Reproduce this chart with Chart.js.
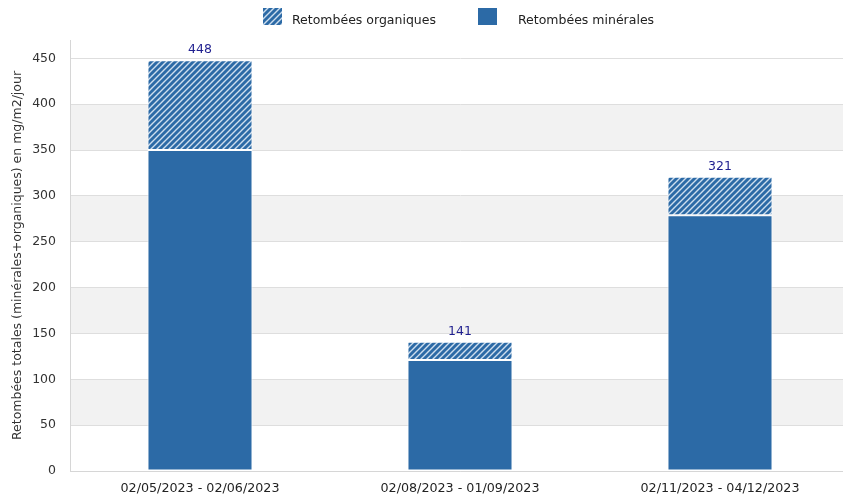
<!DOCTYPE html>
<html>
<head>
<meta charset="utf-8">
<script src="https://cdn.jsdelivr.net/npm/chart.js@4.4.1/dist/chart.umd.min.js"></script>
<style>
  body { margin: 0; background: #fff; overflow: hidden; }
  #wrap { width: 850px; height: 497px; position: relative; }
</style>
</head>
<body>
<div id="wrap"><canvas id="graph"></canvas></div>
<script>
let periodes = ["02/05/2023 - 02/06/2023", "02/08/2023 - 01/09/2023", "02/11/2023 - 04/12/2023"];
let minerales = [350, 121, 279];
let organiques = [98, 20, 42];
let totaux = [448, 141, 321];
let graduations = [0, 50, 100, 150, 200, 250, 300, 350, 400, 450];

const bleu = '#2c6aa6';
const police = 'DejaVu Sans';

// motif hachure pour les retombees organiques
function hachure() {
    const s = 6;
    const c = document.createElement('canvas');
    c.width = s; c.height = s;
    const ctx = c.getContext('2d');
    ctx.fillStyle = bleu;
    ctx.fillRect(0, 0, s, s);
    ctx.strokeStyle = 'rgba(235,242,250,0.85)';
    ctx.lineWidth = 1.4;
    ctx.beginPath();
    ctx.moveTo(0, s); ctx.lineTo(s, 0);
    ctx.moveTo(-1, 1); ctx.lineTo(1, -1);
    ctx.moveTo(s - 1, s + 1); ctx.lineTo(s + 1, s - 1);
    ctx.stroke();
    return ctx.createPattern(c, 'repeat');
}
const motif = hachure();

// bandes grises alternees
const bandes = {
    id: 'bandes',
    beforeDraw(chart) {
        const ctx = chart.ctx, y = chart.scales.y, a = chart.chartArea;
        ctx.save();
        ctx.fillStyle = '#f2f2f2';
        for (let v = 50; v < 450; v += 100) {
            const y1 = y.getPixelForValue(v + 50), y2 = y.getPixelForValue(v);
            ctx.fillRect(a.left, y1, a.right - a.left, y2 - y1);
        }
        ctx.restore();
    }
};

// totaux au dessus des barres + legende
const etiquettes = {
    id: 'etiquettes',
    afterDraw(chart) {
        const ctx = chart.ctx;
        const meta = chart.getDatasetMeta(1);
        ctx.save();
        ctx.font = '12.5px "' + police + '"';
        ctx.fillStyle = '#1f1f8f';
        ctx.textAlign = 'center';
        ctx.textBaseline = 'bottom';
        meta.data.forEach((bar, i) => {
            ctx.fillText(totaux[i], bar.x, bar.y - 4);
        });
        // legende
        ctx.textAlign = 'left';
        ctx.textBaseline = 'middle';
        ctx.fillStyle = motif;
        ctx.fillRect(263, 8, 19, 17);
        ctx.fillStyle = bleu;
        ctx.fillRect(478, 8, 19, 17);
        ctx.fillStyle = '#222';
        ctx.font = '12.5px "' + police + '"';
        ctx.fillText(chart.data.datasets[1].label, 292, 21);
        ctx.fillText(chart.data.datasets[0].label, 518, 21);
        ctx.restore();
    }
};

let graph = document.querySelector('#graph');
const data = {
    labels: periodes,
    datasets: [
        {
            label: 'Retombées minérales',
            data: minerales,
            backgroundColor: bleu,
            borderColor: '#fff',
            borderWidth: 1,
            borderSkipped: false
        },
        {
            label: 'Retombées organiques',
            data: organiques,
            backgroundColor: motif,
            borderColor: '#fff',
            borderWidth: 1,
            borderSkipped: false
        }
    ]
};

const config = {
    type: 'bar',
    data: data,
    plugins: [bandes, etiquettes],
    options: {
        responsive: true,
        maintainAspectRatio: false,
        animation: false,
        barPercentage: 0.404,
        categoryPercentage: 1,
        layout: { padding: { top: 40, left: 0, right: 0, bottom: 0 } },
        plugins: {
            legend: { display: false },
            tooltip: { enabled: false }
        },
        scales: {
            x: {
                stacked: true,
                grid: { display: false, drawTicks: false },
                border: { color: '#d6d6d6' },
                ticks: { color: '#222', font: { family: police, size: 12.7 }, padding: 10, maxRotation: 0 },
                afterFit: (s) => { s.height = 26; }
            },
            y: {
                stacked: true,
                min: 0,
                max: 470,
                grid: { color: '#dedede', drawTicks: false },
                border: { color: '#d6d6d6' },
                afterBuildTicks: (s) => { s.ticks = graduations.map(v => ({ value: v })); },
                ticks: { color: '#333', font: { family: police, size: 12.5 }, padding: 14 },
                title: {
                    display: true,
                    text: 'Retombées totales (minérales+organiques) en mg/m2/jour',
                    color: '#333',
                    font: { family: police, size: 12.5 },
                    padding: { top: 10, bottom: 4 }
                },
                afterFit: (s) => { s.width = 70; }
            }
        }
    }
};

new Chart(graph, config);
</script>
</body>
</html>
